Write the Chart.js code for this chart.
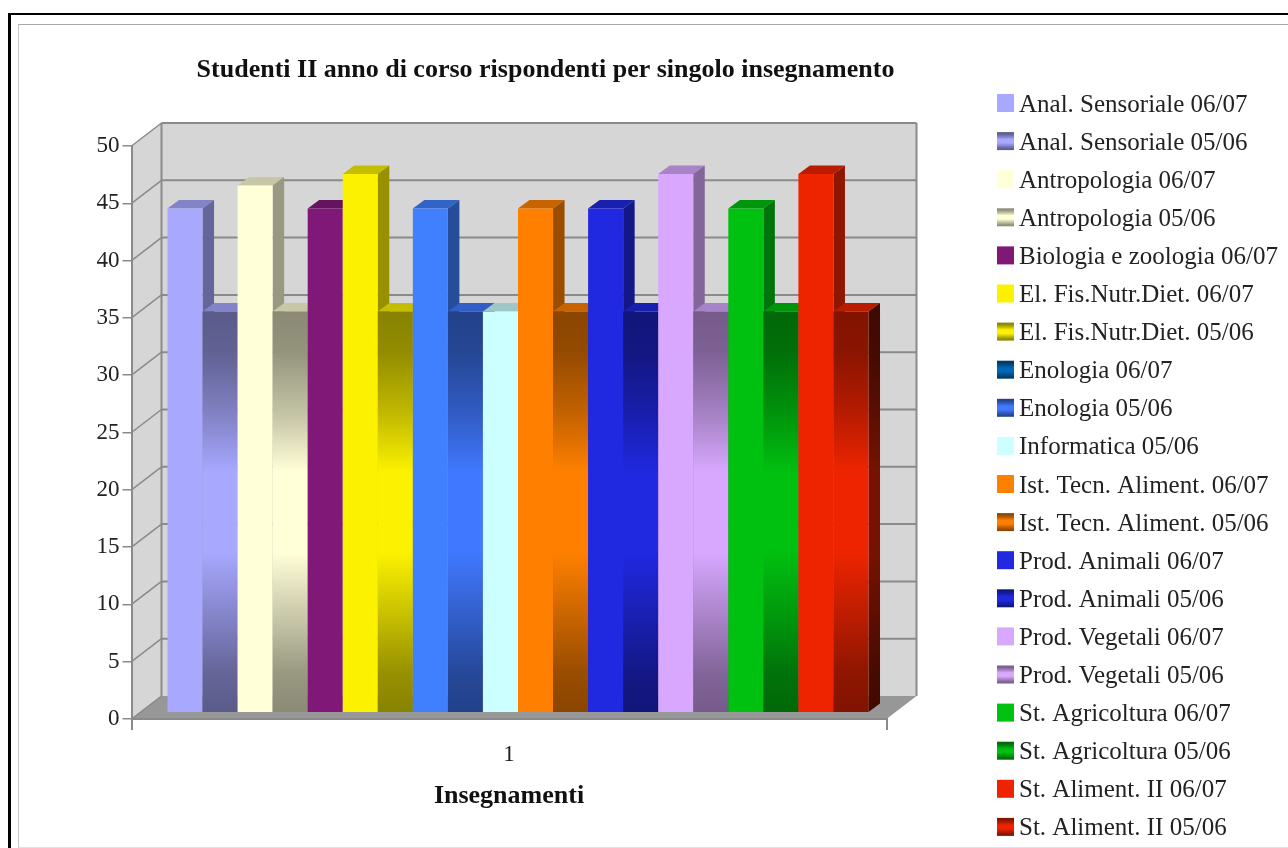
<!DOCTYPE html>
<html lang="it">
<head>
    <meta charset="UTF-8">
    <title>Studenti II anno</title>
    <script src="https://cdn.jsdelivr.net/npm/chart.js@4"></script>
    <style>
      html, body { margin: 0; background: #fff; overflow: hidden; }
      #grafico { position: absolute; left: 0; top: 0; }
      #cornice { position: absolute; left: 8px; top: 13px; width: 1290px; height: 850px; border: solid #000; border-width: 2px 0 0 3px; pointer-events: none; }
      #ombra { position: absolute; left: 18px; top: 24px; width: 1280px; height: 822px; border-style: solid; border-width: 1px 0 1px 1px; border-color: #a8a8a8 transparent #e2e2e2 #c4c4c4; pointer-events: none; }
    </style>
</head>
<body>
    <canvas id="grafico" width="1288" height="848"></canvas>
    <div id="ombra"></div>
    <div id="cornice"></div>
    <script>
// Dati
const categorie = ['1'];
const insegnamenti = [
  'Anal. Sensoriale 06/07', 'Anal. Sensoriale 05/06',
  'Antropologia 06/07', 'Antropologia 05/06',
  'Biologia e zoologia 06/07',
  'El. Fis.Nutr.Diet. 06/07', 'El. Fis.Nutr.Diet. 05/06',
  'Enologia 06/07', 'Enologia 05/06',
  'Informatica 05/06',
  'Ist. Tecn. Aliment. 06/07', 'Ist. Tecn. Aliment. 05/06',
  'Prod. Animali 06/07', 'Prod. Animali 05/06',
  'Prod. Vegetali 06/07', 'Prod. Vegetali 05/06',
  'St. Agricoltura 06/07', 'St. Agricoltura 05/06',
  'St. Aliment. II 06/07', 'St. Aliment. II 05/06'
];
const rispondenti = [44, 35, 46, 35, 44, 47, 35, 44, 35, 35, 44, 35, 44, 35, 47, 35, 44, 35, 47, 35];

// Colori (r, g, b) delle barre e dei quadratini
const colori = [
  [168, 168, 255], [168, 168, 255], [255, 255, 216], [255, 255, 216], [128, 24, 120],
  [252, 242, 0], [252, 242, 0], [64, 128, 255], [64, 120, 255], [204, 255, 255],
  [255, 128, 0], [255, 128, 0], [32, 40, 224], [32, 40, 224], [216, 168, 255],
  [216, 168, 255], [0, 192, 16], [0, 192, 16], [238, 36, 0], [238, 36, 0]
];
const coloriLegenda = colori.map((c, i) => i === 7 ? [0, 104, 184] : c);
const sfumate = [false, true, false, true, false, false, true, false, true, false,
  false, true, false, true, false, true, false, true, false, true];
const sfumateLegenda = sfumate.map((s, i) => s || i === 7);

const fontSerif = 'Liberation Serif';
const colTesto = '#222';
const colAssi = '#8a8a8a';

// Profondità: pareti del grafico e singole barre
const pareteDx = 30, pareteDy = 23;
const barraDx = 11.5, barraDy = 8.5;
const scartoX = 9, scartoY = 6.3;
const areaSx = 131.5, areaDx = 886.5, areaBasso = 719;

const tinta = (c, k) => `rgb(${Math.round(c[0] * k)},${Math.round(c[1] * k)},${Math.round(c[2] * k)})`;

const tappe = [[0, 0.54], [0.1, 0.58], [0.25, 0.76], [0.4, 1], [0.6, 1], [0.75, 0.8], [0.9, 0.6], [1, 0.54]];

function sfumatura(ctx, c, y0, y1, k) {
  const g = ctx.createLinearGradient(0, y0, 0, y1);
  tappe.forEach(t => g.addColorStop(t[0], tinta(c, t[1] * k)));
  return g;
}

const rilievo = {
  id: 'rilievo',
  afterInit(chart) {
    // la legenda occupa tutta la fascia a destra del grafico
    const lg = chart.legend;
    const fit = lg.fit;
    lg.fit = function () {
      fit.call(this);
      this.width = chart.width - areaDx;
    };
  },
  afterLayout(chart) {
    const lg = chart.legend;
    const pad = lg.options.labels.padding;
    lg.left = 997 - pad;
    lg.top = 92.5 - pad;
    lg.bottom = 900;
    chart.titleBlock.left = 0;
    chart.titleBlock.right = 1091;
  },
  beforeDraw(chart) {
    const { ctx, scales: { x, y } } = chart;
    const l = x.left, r = x.right, t = y.top, b = y.bottom;
    ctx.save();
    ctx.fillStyle = '#d6d6d6';
    ctx.fillRect(l + pareteDx, t - pareteDy, r - l, b - t);
    ctx.beginPath();
    ctx.moveTo(l, t);
    ctx.lineTo(l + pareteDx, t - pareteDy);
    ctx.lineTo(l + pareteDx, b - pareteDy);
    ctx.lineTo(l, b);
    ctx.closePath();
    ctx.fill();
    ctx.fillStyle = '#979797';
    ctx.beginPath();
    ctx.moveTo(l, b);
    ctx.lineTo(l + pareteDx, b - pareteDy);
    ctx.lineTo(r + pareteDx, b - pareteDy);
    ctx.lineTo(r, b);
    ctx.closePath();
    ctx.fill();
    ctx.strokeStyle = colAssi;
    ctx.lineWidth = 2;
    y.ticks.forEach(tick => {
      const py = y.getPixelForValue(tick.value);
      ctx.lineWidth = 1.5;
      ctx.beginPath();
      ctx.moveTo(l, py);
      ctx.lineTo(l + pareteDx, py - pareteDy);
      ctx.stroke();
      if (tick.value > 0) {
        ctx.lineWidth = 2;
        ctx.beginPath();
        ctx.moveTo(l + pareteDx, py - pareteDy);
        ctx.lineTo(r + pareteDx, py - pareteDy);
        ctx.stroke();
      }
    });
    ctx.lineWidth = 2;
    ctx.beginPath();
    ctx.moveTo(l + pareteDx, b - pareteDy);
    ctx.lineTo(l + pareteDx, t - pareteDy);
    ctx.moveTo(r + pareteDx, t - pareteDy);
    ctx.lineTo(r + pareteDx, b - pareteDy);
    ctx.stroke();
    ctx.restore();
  },
  beforeDatasetsDraw(chart) {
    // barre da sinistra a destra, ognuna copre il fianco della precedente
    const ctx = chart.ctx;
    ctx.save();
    ctx.translate(scartoX, -scartoY);
    chart.data.datasets.forEach((ds, i) => {
      const meta = chart.getDatasetMeta(i);
      const c = colori[i];
      meta.data.forEach(bar => {
        const sx = bar.x - bar.width / 2, dx = bar.x + bar.width / 2;
        ctx.fillStyle = tinta(c, 0.78);
        ctx.beginPath();
        ctx.moveTo(sx, bar.y);
        ctx.lineTo(sx + barraDx, bar.y - barraDy);
        ctx.lineTo(dx + barraDx, bar.y - barraDy);
        ctx.lineTo(dx, bar.y);
        ctx.closePath();
        ctx.fill();
        ctx.fillStyle = sfumate[i] ? sfumatura(ctx, c, bar.y, bar.base, 0.5) : tinta(c, 0.6);
        ctx.beginPath();
        ctx.moveTo(dx, bar.y);
        ctx.lineTo(dx + barraDx, bar.y - barraDy);
        ctx.lineTo(dx + barraDx, bar.base - barraDy);
        ctx.lineTo(dx, bar.base);
        ctx.closePath();
        ctx.fill();
      });
      meta.controller.draw();
    });
    ctx.restore();
    return false;
  },
  afterDraw(chart) {
    const ctx = chart.ctx, lg = chart.legend;
    const alt = lg.options.labels.boxHeight;
    lg.legendHitBoxes.forEach((box, i) => {
      const y0 = box.top + (box.height - alt) / 2 - 2;
      const c = coloriLegenda[i];
      ctx.fillStyle = '#fff';
      ctx.fillRect(box.left - 1, y0 - 1, 18, alt + 5);
      ctx.fillStyle = sfumateLegenda[i] ? sfumatura(ctx, c, y0, y0 + alt, 1) : tinta(c, 1);
      ctx.fillRect(box.left, y0, 17, alt);
    });
  }
};

new Chart(document.getElementById('grafico'), {
  type: 'bar',
  data: {
    labels: categorie,
    datasets: insegnamenti.map((nome, i) => ({
      label: nome,
      data: [rispondenti[i]],
      backgroundColor(ctx) {
        const c = colori[i];
        if (!sfumate[i] || ctx.type !== 'data' || !ctx.chart.chartArea) return tinta(c, 1);
        const sy = ctx.chart.scales.y;
        return sfumatura(ctx.chart.ctx, c, sy.getPixelForValue(ctx.raw), sy.getPixelForValue(0), 1);
      },
      borderWidth: 0,
      barPercentage: 1,
      categoryPercentage: 0.9285
    }))
  },
  options: {
    responsive: false,
    animation: false,
    events: [],
    layout: { padding: 0 },
    plugins: {
      tooltip: { enabled: false },
      title: {
        display: true,
        text: 'Studenti II anno di corso rispondenti per singolo insegnamento',
        color: '#111',
        font: { family: fontSerif, size: 26, weight: 'bold', lineHeight: 1.2 },
        padding: { top: 54.9, bottom: 59.9 }
      },
      legend: {
        position: 'right',
        align: 'start',
        labels: {
          color: colTesto,
          font: { family: fontSerif, size: 25 },
          boxWidth: 9.5,
          boxHeight: 18,
          padding: 13.1
        }
      }
    },
    scales: {
      x: {
        grid: { drawOnChartArea: false, tickLength: 11, color: colAssi, lineWidth: 2 },
        border: { color: colAssi, width: 2 },
        ticks: { color: colTesto, font: { family: fontSerif, size: 23 }, padding: 11 },
        title: {
          display: true,
          text: 'Insegnamenti',
          color: '#111',
          font: { family: fontSerif, size: 26, weight: 'bold', lineHeight: 1.2 },
          padding: { top: 0, bottom: 36.4 }
        },
        afterFit(scale) { scale.height = 848 - areaBasso; }
      },
      y: {
        min: 0,
        max: 50,
        grid: { drawOnChartArea: false, tickLength: 9, color: colAssi, lineWidth: 1.5 },
        border: { color: colAssi, width: 2 },
        ticks: { stepSize: 5, color: colTesto, font: { family: fontSerif, size: 23 }, padding: 3 },
        afterFit(scale) { scale.width = areaSx; }
      }
    }
  },
  plugins: [rilievo]
});
    </script>
</body>
</html>
